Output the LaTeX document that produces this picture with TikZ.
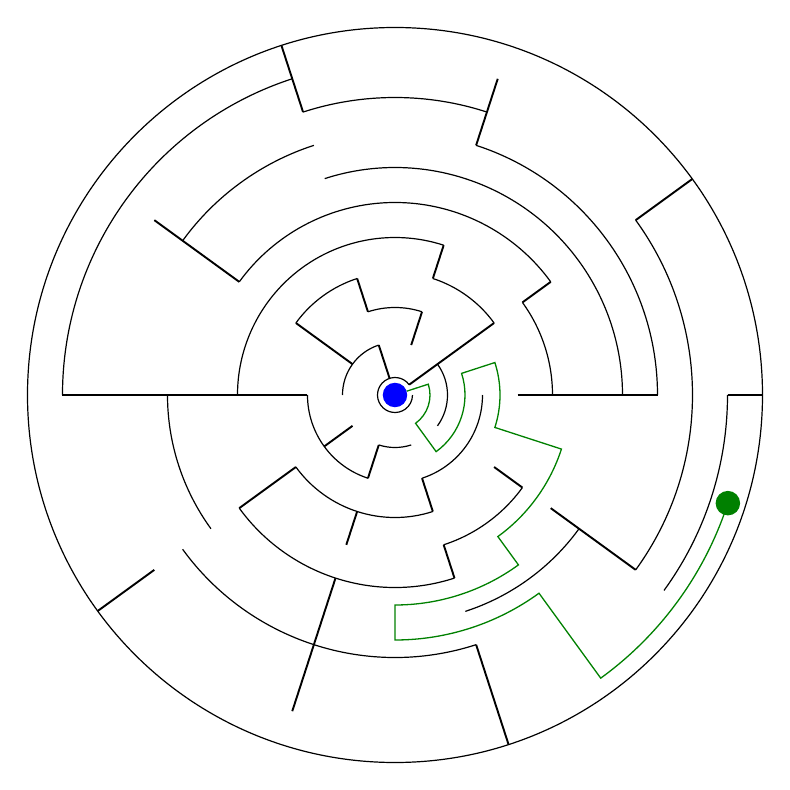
\documentclass[tikz,border=0pt]{standalone}
\usepackage{tikz}
\begin{document}
\begin{tikzpicture}[
  x=1pt, y=1pt,
  wall/.style={line width=1.2pt},
  spoke/.style={line width=1.9pt},
  route/.style={draw=green!50!black, line width=1.3pt},
  dot/.style={circle, inner sep=0pt, minimum size=24.5pt}
]
\useasboundingbox (-395,-395) rectangle (395,395);
\draw[wall] (0,0) circle[radius=367.5];
\foreach \r/\a/\b in {332.5/108/180, 332.5/324/360,
    297.5/72/108, 297.5/-36/36,
    262.5/0/72, 262.5/108/144, 262.5/216/288,
    227.5/0/108, 227.5/180/216, 227.5/288/324,
    192.5/36/144, 192.5/216/288,
    157.5/72/180, 157.5/288/324, 157.5/0/36,
    122.5/36/72, 122.5/108/144, 122.5/216/288,
    87.5/72/108, 87.5/180/252, 87.5/288/360,
    52.5/108/180, 52.5/252/288, 52.5/-36/36,
    17.5/36/360}
  \draw[wall] (\a:\r) arc[start angle=\a, end angle=\b, radius=\r];
\foreach \t/\p/\q in {0/122.5/262.5, 0/332.5/367.5,
    36/17.5/122.5, 36/157.5/192.5, 36/297.5/367.5,
    72/52.5/87.5, 72/122.5/157.5, 72/262.5/332.5,
    108/17.5/52.5, 108/87.5/122.5, 108/297.5/367.5,
    144/52.5/122.5, 144/192.5/297.5,
    180/87.5/332.5,
    216/52.5/87.5, 216/122.5/192.5, 216/297.5/367.5,
    252/52.5/87.5, 252/122.5/157.5, 252/192.5/332.5,
    288/87.5/122.5, 288/157.5/192.5, 288/262.5/367.5,
    324/122.5/157.5, 324/192.5/297.5}
  \draw[spoke] (\t:\p) -- (\t:\q);
\node[dot, fill=blue] (start) at (0,0) {};
\node[dot, fill=green!50!black] (goal) at (-18:350) {};
\draw[route] (start) -- (18:35) arc[start angle=18, end angle=-54, radius=35]
  -- (-54:70) arc[start angle=-54, end angle=18, radius=70]
  -- (18:105) arc[start angle=18, end angle=-18, radius=105]
  -- (-18:175) arc[start angle=-18, end angle=-54, radius=175]
  -- (-54:210) arc[start angle=-54, end angle=-90, radius=210]
  -- (-90:245) arc[start angle=-90, end angle=-54, radius=245]
  -- (-54:350) arc[start angle=-54, end angle=-18, radius=350];
\end{tikzpicture}
\end{document}
